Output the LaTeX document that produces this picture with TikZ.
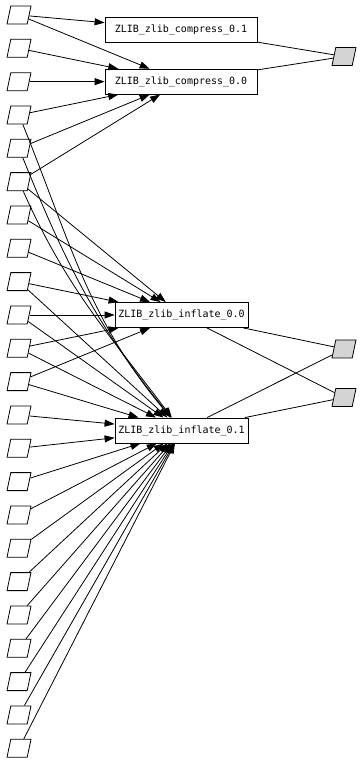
\documentclass[tikz,border=0pt]{standalone}
\usepackage{fontspec}
\setmonofont{DejaVu Sans Mono}
\usepackage{tikz}
\usetikzlibrary{shapes,arrows.meta,positioning}

\begin{document}
\begin{tikzpicture}[
    x=1pt, y=1pt,
    line width=0.8pt,
    node distance=33.33pt, on grid,
    box/.style={rectangle, draw, fill=white, minimum height=25pt, inner sep=0pt, font=\ttfamily\fontsize{10}{12}\selectfont},
    src/.style={trapezium, trapezium left angle=77, trapezium right angle=103, trapezium stretches=true, draw, fill=white, minimum width=24pt, minimum height=18pt, inner sep=1pt},
    sink/.style={src, fill=black!17},
    arrow/.style={->,>={Triangle[length=10pt,width=7pt]}}
]
    \useasboundingbox (0,0) rectangle (362,-762);

    \node[src] (p1) at (19,-15) {};
    \node[src, below=of p1] (p2) {};
    \node[src, below=of p2] (p3) {};
    \node[src, below=of p3] (p4) {};
    \node[src, below=of p4] (p5) {};
    \node[src, below=of p5] (p6) {};
    \node[src, below=of p6] (p7) {};
    \node[src, below=of p7] (p8) {};
    \node[src, below=of p8] (p9) {};
    \node[src, below=of p9] (p10) {};
    \node[src, below=of p10] (p11) {};
    \node[src, below=of p11] (p12) {};
    \node[src, below=of p12] (p13) {};
    \node[src, below=of p13] (p14) {};
    \node[src, below=of p14] (p15) {};
    \node[src, below=of p15] (p16) {};
    \node[src, below=of p16] (p17) {};
    \node[src, below=of p17] (p18) {};
    \node[src, below=of p18] (p19) {};
    \node[src, below=of p19] (p20) {};
    \node[src, below=of p20] (p21) {};
    \node[src, below=of p21] (p22) {};
    \node[src, below=of p22] (p23) {};

    \node[box, minimum width=152pt, below right=14.5pt and 162pt of p1] (c01) {ZLIB\_zlib\_compress\_0.1};
    \node[box, minimum width=152pt, right=162pt of p3] (c00) {ZLIB\_zlib\_compress\_0.0};
    \node[box, minimum width=133pt, right=162.5pt of p10] (i00) {ZLIB\_zlib\_inflate\_0.0};
    \node[box, minimum width=133pt, below right=15.5pt and 162.5pt of p13] (i01) {ZLIB\_zlib\_inflate\_0.1};

    \node[sink, below right=27pt and 163pt of c01] (r1) {};
    \node[sink, below right=34pt and 162.5pt of i00] (r2) {};
    \node[sink, above right=33pt and 162.5pt of i01] (r3) {};

    \draw[arrow] (p1) -- (c01);
    \draw[arrow] (p1) -- (c00);
    \draw[arrow] (p2) -- (c00);
    \draw[arrow] (p3) -- (c00);
    \draw[arrow] (p4) -- (c00);
    \draw[arrow] (p5) -- (c00);
    \draw[arrow] (p6) -- (c00);

    \draw[arrow] (p4) to[out=-68, in=130] (i01);
    \draw[arrow] (p5) to[out=-68, in=129] (i01);
    \draw[arrow] (p6) to[out=-66, in=127] (i01);

    \draw[arrow] (p6) -- (i00);
    \draw[arrow] (p7) -- (i00);
    \draw[arrow] (p8) -- (i00);
    \draw[arrow] (p9) -- (i00);
    \draw[arrow] (p10) -- (i00);
    \draw[arrow] (p11) -- (i00);
    \draw[arrow] (p12) -- (i00);

    \draw[arrow] (p9) -- (i01);
    \draw[arrow] (p10) -- (i01);
    \draw[arrow] (p11) -- (i01);
    \draw[arrow] (p12) -- (i01);
    \draw[arrow] (p13) -- (i01);
    \draw[arrow] (p14) -- (i01);
    \draw[arrow] (p15) -- (i01);
    \draw[arrow] (p16) -- (i01);
    \draw[arrow] (p17) -- (i01);
    \draw[arrow] (p18) -- (i01);
    \draw[arrow] (p19) -- (i01);
    \draw[arrow] (p20) -- (i01);
    \draw[arrow] (p21) -- (i01);
    \draw[arrow] (p22) -- (i01);
    \draw[arrow] (p23) -- (i01);

    \draw (c01) -- (r1);
    \draw (c00) -- (r1);
    \draw (i00) -- (r2);
    \draw (i00) -- (r3);
    \draw (i01) -- (r2);
    \draw (i01) -- (r3);
\end{tikzpicture}
\end{document}
